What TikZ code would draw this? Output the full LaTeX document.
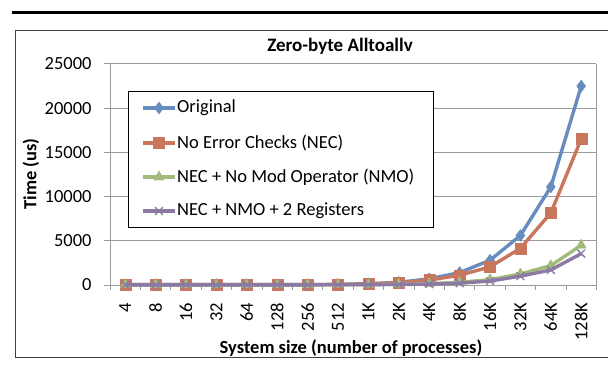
\documentclass[tikz,border=0pt]{standalone}
\usepackage{fontspec}
\setmainfont{Carlito}
\usetikzlibrary{positioning, plotmarks}
\definecolor{origblue}{RGB}{104,140,190}
\definecolor{necred}{RGB}{200,118,92}
\definecolor{nmogreen}{RGB}{163,187,122}
\definecolor{regpurple}{RGB}{140,122,165}
\definecolor{gridgray}{RGB}{155,155,155}

\begin{document}
\begin{tikzpicture}[
      x=1pt, y=-1pt,
      rule/.style={line width=2.6pt},
      frame/.style={draw=black!75, line width=0.9pt},
      grid/.style={draw=gridgray, line width=1pt},
      tick/.style={font=\fontsize{18.5}{20}\selectfont, inner sep=0pt},
      lab/.style={font=\fontsize{18.5}{20}\selectfont\bfseries, inner sep=0pt},
      series/.style={line width=3.4pt, line join=round},
      origser/.style={series, draw=origblue, mark=diamond*, mark size=6pt, mark options={fill=origblue, draw=origblue, line width=0.4pt}},
      necser/.style={series, draw=necred, mark=square*, mark size=5.5pt, mark options={fill=necred, draw=necred, line width=0.4pt}},
      nmoser/.style={series, draw=nmogreen, mark=triangle*, mark size=6pt, mark options={fill=nmogreen, draw=nmogreen, line width=0.4pt}},
      regser/.style={series, draw=regpurple, mark=x, mark size=5.5pt, mark options={draw=regpurple, line width=1.3pt}},
      legbox/.style={rectangle, draw=black, line width=1pt, fill=white, minimum width=305pt, minimum height=136pt, inner sep=0pt},
      legtext/.style={font=\fontsize{18.5}{20}\selectfont, anchor=west, inner sep=0pt}
    ]
    \useasboundingbox (0,0) rectangle (608,369);

    % PAGE RULE AND FRAME
    \draw[rule] (12,12.5) -- (608,12.5);
    \draw[frame] (608,30) -- (15,30) -- (15,357) -- (608,357);

    % TITLE
    \node[lab, font=\fontsize{19}{21}\selectfont\bfseries] (title) at (340,46) {Zero-byte Alltoallv};

    % PLOT AREA (categories in x, thousands of us in y)
    \begin{scope}[shift={(110,285)}, x=30.4pt, y=8.84pt]
      \foreach \v in {5,10,15,20,25}
        \draw[grid] (0,\v) -- (16,\v);
      \draw[grid] (16,0) -- (16,25);
      \draw[grid] (0,0) -- (0,25);
      \draw[grid] (0,0) -- (16,0);
      \foreach \v in {0,5,...,25}
        \draw[grid] (-0.2,\v) -- (0,\v);
      \foreach \i in {0,...,16}
        \draw[grid] (\i,0) -- (\i,-0.6);

      % y tick labels
      \foreach \v/\t in {0/0, 5/5000, 10/10000, 15/15000, 20/20000, 25/25000}
        \node[tick, anchor=east] (ylab\v) at (-0.6,\v) {\t};

      % x tick labels
      \foreach \t [count=\i] in {4,8,16,32,64,128,256,512,1K,2K,4K,8K,16K,32K,64K,128K}
        \node[tick, anchor=east, rotate=90] (xlab\i) at (\i-0.5,-2.0) {\t};

      % series
      \draw[origser] plot coordinates {(0.5,.05) (1.5,.05) (2.5,.05) (3.5,.05) (4.5,.05) (5.5,.05) (6.5,.05) (7.5,.07) (8.5,.15) (9.5,.3) (10.5,.7) (11.5,1.4) (12.5,2.8) (13.5,5.6) (14.5,11.1) (15.5,22.5)};
      \draw[necser] plot coordinates {(0.5,.04) (1.5,.04) (2.5,.04) (3.5,.04) (4.5,.04) (5.5,.04) (6.5,.04) (7.5,.06) (8.5,.12) (9.5,.25) (10.5,.55) (11.5,1.1) (12.5,2.05) (13.5,4.15) (14.5,8.15) (15.5,16.5)};
      \draw[nmoser] plot coordinates {(0.5,.02) (1.5,.02) (2.5,.02) (3.5,.02) (4.5,.02) (5.5,.02) (6.5,.02) (7.5,.03) (8.5,.05) (9.5,.08) (10.5,.15) (11.5,.3) (12.5,.6) (13.5,1.25) (14.5,2.2) (15.5,4.5)};
      \draw[regser] plot coordinates {(0.5,.02) (1.5,.02) (2.5,.02) (3.5,.02) (4.5,.02) (5.5,.02) (6.5,.02) (7.5,.03) (8.5,.04) (9.5,.06) (10.5,.1) (11.5,.2) (12.5,.45) (13.5,1.0) (14.5,1.7) (15.5,3.55)};
    \end{scope}

    % AXIS TITLES
    \node[lab, rotate=90] (ytitle) at (31,174) {Time (us)};
    \node[lab] (xtitle) at (351,348) {System size (number of processes)};

    % LEGEND
    \node[legbox, anchor=north west] (legend) at (128,91) {};
    \draw[series, draw=origblue] (143,108) -- (175,108);
    \path[origser] plot coordinates {(159,108)};
    \node[legtext] (legorig) at (177,108) {Original};
    \draw[series, draw=necred] (143,143) -- (175,143);
    \path[necser] plot coordinates {(159,143)};
    \node[legtext] (legnec) at (177,143) {No Error Checks (NEC)};
    \draw[series, draw=nmogreen] (143,177) -- (175,177);
    \path[nmoser] plot coordinates {(159,177)};
    \node[legtext] (legnmo) at (177,177) {NEC + No Mod Operator (NMO)};
    \draw[series, draw=regpurple] (143,211) -- (175,211);
    \path[regser] plot coordinates {(159,211)};
    \node[legtext] (legreg) at (177,211) {NEC + NMO + 2 Registers};
    \end{tikzpicture}
\end{document}
